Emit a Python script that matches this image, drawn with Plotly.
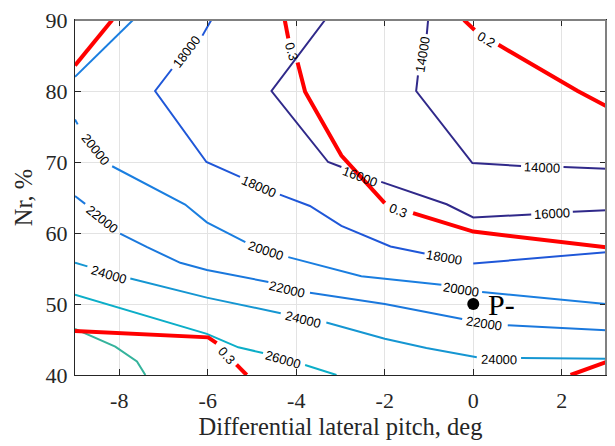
import plotly.graph_objects as go

# ---- contour polylines (None = gap where a label sits) ----
c14_x = [-1.02, -1.05, None, -1.25, -1.29, -0.02, 1.08, None, 2.04, 3.0]
c14_y = [90.0, 88.0, None, 82.2, 80.0, 69.85, 69.45, None, 69.3, 69.05]

c16_x = [-3.35, -4.56, -3.28, -2.98, None, -2.08, -0.6, 0.0, 1.31, None, 2.25, 3.0]
c16_y = [90.0, 80.0, 70.0, 69.3, None, 67.2, 64.05, 62.2, 62.6, None, 63.0, 63.2]

c18_x = [-5.92, -6.12, None, -6.81, -7.19, -6.03, -5.27, None, -4.37, -3.69, -2.98, -1.87, -1.1, None, 0.0, 3.0]
c18_y = [90.0, 87.8, None, 83.1, 80.0, 70.0, 67.9, None, 65.4, 63.8, 61.0, 58.1, 57.1, None, 55.7, 57.3]

c20a_x = [-9.0, -7.69]
c20a_y = [82.0, 90.0]

c20_x = [-9.0, -8.94, None, -8.16, -6.51, -6.02, -5.15, None, -4.18, -2.53, -0.72, None, 0.2, 3.0]
c20_y = [76.0, 75.3, None, 69.4, 64.0, 61.5, 58.7, None, 56.6, 53.9, 52.7, None, 51.7, 50.0]

c22_x = [-9.0, -8.77, None, -7.98, -7.37, -6.62, -6.02, -4.63, None, -3.69, -2.0, -0.25, None, 0.78, 3.0]
c22_y = [65.2, 64.1, None, 59.9, 58.0, 55.8, 54.8, 53.1, None, 51.6, 50.0, 47.9, None, 47.0, 46.3]

c24_x = [-9.0, -8.72, None, -7.75, -6.02, -4.35, None, -3.32, -2.0, -1.06, 0.08, None, 1.08, 3.0]
c24_y = [55.8, 55.3, None, 53.6, 50.9, 48.7, None, 47.4, 45.1, 43.8, 42.5, None, 42.4, 42.3]

c26_x = [-9.0, -7.53, -6.02, -5.31, -4.75, None, -3.8, -3.09]
c26_y = [51.3, 48.6, 45.8, 43.9, 43.1, None, 41.4, 40.0]

c28_x = [-9.0, -8.09, -7.6, -7.41]
c28_y = [46.5, 44.0, 41.9, 40.0]

# efficiency contours (red)
r1_x = [-9.0, -8.16]
r1_y = [83.6, 90.0]
r2_x = [-4.26, -4.18, None, -3.97, -3.8, -2.98, -2.0, None, -1.36, 0.0, 3.0]
r2_y = [90.0, 87.4, None, 84.0, 79.9, 70.9, 64.2, None, 62.8, 60.2, 58.0]
r3_x = [-0.21, 0.03, None, 0.57, 2.36, 3.0]
r3_y = [90.0, 88.6, None, 86.5, 80.0, 77.9]
r4_x = [-9.0, -5.99, -5.8, None, -5.35, -5.12]
r4_y = [46.2, 45.3, 44.5, None, 41.45, 40.0]
r5_x = [2.2, 3.0]
r5_y = [40.0, 41.8]

# contour labels: text, x, y, angle
lab_text = ["18000", "18000", "18000", "20000", "20000", "20000",
            "22000", "22000", "22000", "24000", "24000", "24000", "26000",
            "14000", "14000", "16000", "16000",
            "0.3", "0.3", "0.2", "0.3"]
lab_x = [-6.47, -4.84, -0.65, -8.54, -4.69, -0.28,
         -8.38, -4.2, 0.24, -8.24, -3.85, 0.58, -4.31,
         -1.15, 1.55, -2.57, 1.78,
         -4.1, -1.7, 0.29, -5.57]
lab_y = [85.5, 66.6, 56.5, 71.7, 57.6, 52.05,
         61.9, 52.1, 47.3, 54.2, 47.8, 42.2, 42.2,
         85.2, 69.2, 68.0, 62.7,
         85.6, 63.1, 87.2, 42.8]
lab_ang = [-52.5, 23.5, 10, 51, 18, 9,
           39, 13.5, 8.5, 16.5, 14, 1, 15.6,
           -81, 2, 20.6, -3,
           74, 20.7, 31, 48]

point_x = [0.0]
point_y = [50.0]
point_text = ["P-"]

x_ticks = [-8, -6, -4, -2, 0, 2]
y_ticks = [40, 50, 60, 70, 80, 90]

SERIF = "Liberation Serif"
SANS = "Liberation Sans"

C14 = "#30298a"
C18 = "#1f57d8"
C20 = "#1a7ee0"
C22 = "#1a78dd"
C24 = "#1596d2"
C26 = "#0caec8"
C28 = "#35b39c"
RED = "#ff0000"

fig = go.Figure()

def add_line(xs, ys, color, width):
    fig.add_trace(go.Scatter(x=xs, y=ys, mode="lines",
                             line=dict(color=color, width=width),
                             connectgaps=False, hoverinfo="skip",
                             showlegend=False))

add_line(c14_x, c14_y, C14, 2)
add_line(c16_x, c16_y, C14, 2)
add_line(c18_x, c18_y, C18, 2)
add_line(c20a_x, c20a_y, C20, 2)
add_line(c20_x, c20_y, C20, 2)
add_line(c22_x, c22_y, C22, 2)
add_line(c24_x, c24_y, C24, 2)
add_line(c26_x, c26_y, C26, 2)
add_line(c28_x, c28_y, C28, 2)
for xs, ys in [(r1_x, r1_y), (r2_x, r2_y), (r3_x, r3_y), (r4_x, r4_y), (r5_x, r5_y)]:
    add_line(xs, ys, RED, 4)

fig.add_trace(go.Scatter(x=point_x, y=point_y, mode="markers",
                         marker=dict(color="black", size=12),
                         showlegend=False, hoverinfo="skip"))

for t, x, y, a in zip(lab_text, lab_x, lab_y, lab_ang):
    fig.add_annotation(x=x, y=y, xref="x", yref="y", text=t, showarrow=False,
                       textangle=a, font=dict(family=SANS, size=13, color="black"))

fig.add_annotation(x=point_x[0] + 0.28, y=point_y[0], xref="x", yref="y", text=point_text[0],
                   showarrow=False, xanchor="left", yanchor="middle",
                   font=dict(family=SERIF, size=30, color="black"))

axis_common = dict(showgrid=True, gridcolor="#e3e3e3", gridwidth=1,
                   showline=True, linecolor="#262626", linewidth=1,
                   mirror="ticks", ticks="inside", ticklen=6, tickcolor="#262626",
                   zeroline=False,
                   tickfont=dict(family=SERIF, size=22, color="#262626"))

fig.update_xaxes(range=[-9, 3], tickvals=x_ticks, ticktext=[str(v) for v in x_ticks],
                 ticklabelstandoff=6,
                 title=dict(text="Differential lateral pitch, deg",
                            font=dict(family=SERIF, size=24.5, color="#262626"),
                            standoff=4),
                 **axis_common)
fig.update_yaxes(range=[40, 90], tickvals=y_ticks, ticktext=[str(v) for v in y_ticks],
                 ticklabelstandoff=2,
                 title=dict(text="Nr, %",
                            font=dict(family=SERIF, size=24.5, color="#262626"),
                            standoff=6),
                 **axis_common)

# grey top/right box edges
fig.add_shape(type="line", xref="paper", yref="paper", x0=0, x1=1, y0=1, y1=1,
              line=dict(color="#808080", width=2), layer="above")
fig.add_shape(type="line", xref="paper", yref="paper", x0=1, x1=1, y0=0, y1=1,
              line=dict(color="#808080", width=2), layer="above")

fig.update_layout(width=615, height=446, margin=dict(l=75, r=8, t=13, b=71),
                  font=dict(family=SERIF, color="#262626"),
                  plot_bgcolor="white", paper_bgcolor="white")

fig.write_html("out.html")
